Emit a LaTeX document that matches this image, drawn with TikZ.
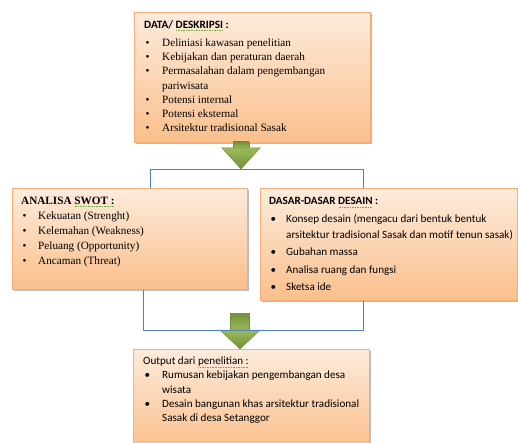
\documentclass[tikz,border=0pt]{standalone}
\usepackage{fontspec}
\setmainfont{Liberation Serif}
\newfontfamily\calib{Carlito}
\usetikzlibrary{shadows}

\definecolor{boxtop}{HTML}{FDEBDC}
\definecolor{boxbot}{HTML}{FABF8C}
\definecolor{boxline}{HTML}{F5AE78}
\definecolor{linkblue}{HTML}{4F81BD}
\definecolor{arrowlt}{HTML}{9BBB59}
\definecolor{arrowdk}{HTML}{71903A}
\definecolor{spellgreen}{HTML}{6AAF3A}

\newsavebox{\spellbox}
\newcommand{\spellmark}[1]{\sbox{\spellbox}{#1}%
  \rlap{\textcolor{spellgreen}{\raisebox{-2.4pt}{\hbox to \wd\spellbox{\xleaders\hbox to 1.6pt{\hss\rule{0.9pt}{0.5pt}\hss}\hfil}}}}%
  \usebox{\spellbox}}
\newcommand{\bul}[1]{\makebox[#1][l]{\hspace{1.5pt}\textbullet}}

\begin{document}
\begin{tikzpicture}[x=1pt,y=-1pt,
  box/.style={draw=boxline, line width=0.6pt, top color=boxtop, bottom color=boxbot,
    drop shadow={shadow xshift=1.5pt, shadow yshift=-2pt, opacity=0.45, fill=black!60},
    anchor=north west, inner sep=0pt},
  txt/.style={anchor=north west, inner sep=0pt, align=left, text=black},
  link/.style={draw=linkblue, line width=0.7pt},
  stem/.style={draw=arrowdk, line width=0.5pt, top color=arrowdk, bottom color=arrowlt},
  head/.style={draw=arrowdk, line width=0.5pt, top color=arrowlt, bottom color=arrowdk}]
  \useasboundingbox (0,0) rectangle (518,443);

  \node[box, minimum width=236pt, minimum height=130pt] (data)   at (134,12)  {};
  \node[box, minimum width=235pt, minimum height=101pt] (swot)   at (12,188)  {};
  \node[box, minimum width=257pt, minimum height=112pt] (dasar)  at (260,188) {};
  \node[box, minimum width=236pt, minimum height=100pt] (output) at (133,349) {};

  \node[txt, font=\fontsize{11.2}{14.2}\selectfont] (datatext) at (144,18.3) {%
    \strut{\calib\bfseries DATA/ \spellmark{DESKRIPSI} :}\\[3.8pt]
    \bul{18pt}Deliniasi kawasan penelitian\\
    \bul{18pt}Kebijakan dan peraturan daerah\\
    \bul{18pt}Permasalahan dalam pengembangan\\
    \hspace*{18pt}pariwisata\\
    \bul{18pt}Potensi internal\\
    \bul{18pt}Potensi eksternal\\
    \bul{18pt}Arsitektur tradisional Sasak};

  \node[txt, font=\fontsize{11.2}{14.9}\selectfont] (swottext) at (21,193.4) {%
    \strut{\bfseries ANALISA \spellmark{SWOT :}}\\[0.8pt]
    \bul{17pt}Kekuatan (Strenght)\\
    \bul{17pt}Kelemahan (Weakness)\\
    \bul{17pt}Peluang (Opportunity)\\
    \bul{17pt}Ancaman (Threat)};

  \node[txt, font=\calib\fontsize{11.1}{16}\selectfont] (dasartext) at (269,193.6) {%
    \strut{\bfseries DASAR-DASAR \spellmark{DESAIN} :}\\[1pt]
    \bul{17pt}Konsep desain (mengacu dari bentuk bentuk\\
    \hspace*{17pt}arsitektur tradisional Sasak dan motif tenun sasak)\\[1.5pt]
    \bul{17pt}Gubahan massa\\[1.5pt]
    \bul{17pt}Analisa ruang dan fungsi\\[1.5pt]
    \bul{17pt}Sketsa ide};

  \node[txt, font=\calib\fontsize{11.1}{14.4}\selectfont] (outputtext) at (143,354.7) {%
    \strut Output dari \spellmark{penelitian :}\\[-0.7pt]
    \bul{19pt}Rumusan kebijakan pengembangan desa\\
    \hspace*{19pt}wisata\\
    \bul{19pt}Desain bangunan khas arsitektur tradisional\\
    \hspace*{19pt}Sasak di desa Setanggor};

  \coordinate (forkl) at (150,169);
  \coordinate (forkr) at (363,169);
  \coordinate (joinl) at (143,330);
  \coordinate (joinr) at (363,330);

  \draw[link] (forkl |- swot.north) -- (forkl) -- (forkr) -- (forkr |- dasar.north);

  \draw[stem] (233,142) rectangle (249,148);
  \draw[head] (222,148) -- (260,148) -- (241,169) -- cycle;

  \draw[stem] (230.5,313) rectangle (249.5,330);
  \draw[head] (220,330) -- (260,330) -- (240,349) -- cycle;

  \draw[link] (joinl |- swot.south) -- (joinl) -- (joinr) -- (joinr |- dasar.south);
\end{tikzpicture}
\end{document}
